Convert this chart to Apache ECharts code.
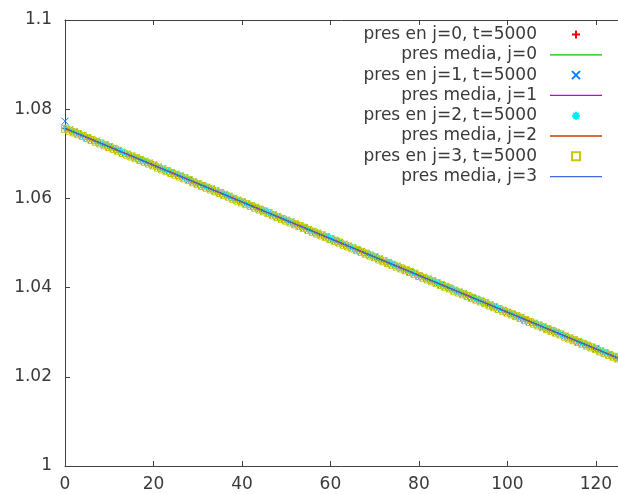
<!DOCTYPE html>
<html>
<head>
<meta charset="utf-8">
<script src="https://cdn.jsdelivr.net/npm/echarts@6/dist/echarts.min.js"></script>
<style>html,body{margin:0;padding:0;background:#fff}#c{width:618px;height:494px}</style>
</head>
<body>
<div id="c"></div>
<script>
// x positions (j index along the domain)
var xValues = [0,1,2,3,4,5,6,7,8,9,10,11,12,13,14,15,16,17,18,19,20,21,22,23,24,25,26,27,28,29,30,31,32,33,34,35,36,37,38,39,40,41,42,43,44,45,46,47,48,49,50,51,52,53,54,55,56,57,58,59,60,61,62,63,64,65,66,67,68,69,70,71,72,73,74,75,76,77,78,79,80,81,82,83,84,85,86,87,88,89,90,91,92,93,94,95,96,97,98,99,100,101,102,103,104,105,106,107,108,109,110,111,112,113,114,115,116,117,118,119,120,121,122,123,124,125];

var presJ0 = [1.0757,1.0753,1.0749,1.0745,1.0740,1.0736,1.0732,1.0728,1.0724,1.0720,1.0716,1.0712,1.0708,1.0703,1.0699,1.0695,1.0691,1.0687,1.0683,1.0679,1.0675,1.0670,1.0666,1.0662,1.0658,1.0654,1.0650,1.0646,1.0642,1.0637,1.0633,1.0629,1.0625,1.0621,1.0617,1.0613,1.0609,1.0605,1.0600,1.0596,1.0592,1.0588,1.0584,1.0580,1.0576,1.0572,1.0568,1.0563,1.0559,1.0555,1.0551,1.0547,1.0543,1.0539,1.0535,1.0530,1.0526,1.0522,1.0518,1.0514,1.0510,1.0506,1.0502,1.0497,1.0493,1.0489,1.0485,1.0481,1.0477,1.0473,1.0469,1.0464,1.0460,1.0456,1.0452,1.0448,1.0444,1.0440,1.0436,1.0432,1.0427,1.0423,1.0419,1.0415,1.0411,1.0407,1.0403,1.0399,1.0394,1.0390,1.0386,1.0382,1.0378,1.0374,1.0370,1.0366,1.0361,1.0357,1.0353,1.0349,1.0345,1.0341,1.0337,1.0333,1.0328,1.0324,1.0320,1.0316,1.0312,1.0308,1.0304,1.0300,1.0296,1.0291,1.0287,1.0283,1.0279,1.0275,1.0271,1.0267,1.0263,1.0258,1.0254,1.0250,1.0246,1.0242];
var presJ1 = [1.0773,1.0754,1.0749,1.0745,1.0741,1.0736,1.0732,1.0728,1.0724,1.0720,1.0716,1.0712,1.0707,1.0703,1.0699,1.0695,1.0691,1.0687,1.0683,1.0679,1.0674,1.0670,1.0666,1.0662,1.0658,1.0654,1.0650,1.0646,1.0641,1.0637,1.0633,1.0629,1.0625,1.0621,1.0617,1.0613,1.0608,1.0604,1.0600,1.0596,1.0592,1.0588,1.0584,1.0580,1.0575,1.0571,1.0567,1.0563,1.0559,1.0555,1.0551,1.0547,1.0542,1.0538,1.0534,1.0530,1.0526,1.0522,1.0518,1.0514,1.0509,1.0505,1.0501,1.0497,1.0493,1.0489,1.0485,1.0481,1.0476,1.0472,1.0468,1.0464,1.0460,1.0456,1.0452,1.0448,1.0443,1.0439,1.0435,1.0431,1.0427,1.0423,1.0419,1.0415,1.0410,1.0406,1.0402,1.0398,1.0394,1.0390,1.0386,1.0382,1.0377,1.0373,1.0369,1.0365,1.0361,1.0357,1.0353,1.0349,1.0344,1.0340,1.0336,1.0332,1.0328,1.0324,1.0320,1.0316,1.0311,1.0307,1.0303,1.0299,1.0295,1.0291,1.0287,1.0283,1.0278,1.0274,1.0270,1.0266,1.0262,1.0258,1.0254,1.0250,1.0245,1.0241];
var presJ2 = [1.0758,1.0754,1.0750,1.0746,1.0741,1.0737,1.0733,1.0729,1.0725,1.0721,1.0717,1.0713,1.0709,1.0704,1.0700,1.0696,1.0692,1.0688,1.0684,1.0680,1.0676,1.0671,1.0667,1.0663,1.0659,1.0655,1.0651,1.0647,1.0643,1.0638,1.0634,1.0630,1.0626,1.0622,1.0618,1.0614,1.0610,1.0606,1.0601,1.0597,1.0593,1.0589,1.0585,1.0581,1.0577,1.0573,1.0569,1.0564,1.0560,1.0556,1.0552,1.0548,1.0544,1.0540,1.0536,1.0531,1.0527,1.0523,1.0519,1.0515,1.0511,1.0507,1.0503,1.0498,1.0494,1.0490,1.0486,1.0482,1.0478,1.0474,1.0470,1.0465,1.0461,1.0457,1.0453,1.0449,1.0445,1.0441,1.0437,1.0433,1.0428,1.0424,1.0420,1.0416,1.0412,1.0408,1.0404,1.0400,1.0395,1.0391,1.0387,1.0383,1.0379,1.0375,1.0371,1.0367,1.0362,1.0358,1.0354,1.0350,1.0346,1.0342,1.0338,1.0334,1.0329,1.0325,1.0321,1.0317,1.0313,1.0309,1.0305,1.0301,1.0297,1.0292,1.0288,1.0284,1.0280,1.0276,1.0272,1.0268,1.0264,1.0259,1.0255,1.0251,1.0247,1.0243];
var presJ3 = [1.0756,1.0752,1.0748,1.0744,1.0740,1.0735,1.0731,1.0727,1.0723,1.0719,1.0715,1.0711,1.0707,1.0702,1.0698,1.0694,1.0690,1.0686,1.0682,1.0678,1.0674,1.0669,1.0665,1.0661,1.0657,1.0653,1.0649,1.0645,1.0641,1.0636,1.0632,1.0628,1.0624,1.0620,1.0616,1.0612,1.0608,1.0604,1.0599,1.0595,1.0591,1.0587,1.0583,1.0579,1.0575,1.0571,1.0567,1.0562,1.0558,1.0554,1.0550,1.0546,1.0542,1.0538,1.0534,1.0529,1.0525,1.0521,1.0517,1.0513,1.0509,1.0505,1.0501,1.0496,1.0492,1.0488,1.0484,1.0480,1.0476,1.0472,1.0468,1.0463,1.0459,1.0455,1.0451,1.0447,1.0443,1.0439,1.0435,1.0431,1.0426,1.0422,1.0418,1.0414,1.0410,1.0406,1.0402,1.0398,1.0393,1.0389,1.0385,1.0381,1.0377,1.0373,1.0369,1.0365,1.0360,1.0356,1.0352,1.0348,1.0344,1.0340,1.0336,1.0332,1.0327,1.0323,1.0319,1.0315,1.0311,1.0307,1.0303,1.0299,1.0295,1.0290,1.0286,1.0282,1.0278,1.0274,1.0270,1.0266,1.0262,1.0257,1.0253,1.0249,1.0245,1.0241];

// mean pressure (pres media) read at a few x positions
var mediaX = [0,25,50,75,100,125];
var mediaJ0 = [1.0757,1.0654,1.0551,1.0448,1.0345,1.0242];
var mediaJ1 = [1.0757,1.0654,1.0551,1.0448,1.0345,1.0242];
var mediaJ2 = [1.0757,1.0654,1.0551,1.0448,1.0345,1.0242];
var mediaJ3 = [1.0757,1.0654,1.0551,1.0448,1.0345,1.0242];

var seriesNames = ['pres en j=0, t=5000','pres media, j=0','pres en j=1, t=5000','pres media, j=1','pres en j=2, t=5000','pres media, j=2','pres en j=3, t=5000','pres media, j=3'];
var seriesColors = ['#ff0000','#00c000','#0080ff','#c000ff','#00eeee','#c04000','#c8c800','#4169e1'];

function pairs(xs, ys){ var o=[]; for(var i=0;i<xs.length;i++) o.push([xs[i], ys[i]]); return o; }

var PLUS = 'path://M0,5L10,5M5,0L5,10';
var CROSS = 'path://M0,0L10,10M10,0L0,10';
var STAR = 'path://M0,5L10,5M5,0L5,10M1.5,1.5L8.5,8.5M8.5,1.5L1.5,8.5';
var SQUARE = 'path://M0,0L10,0L10,10L0,10Z';
var LINEICON = 'path://M0,0L52,0L52,1.3L0,1.3Z';

function pts(name, data, symbol, color, size){
  return {type:'scatter', name:name, data:data, symbol:symbol, symbolSize:size,
    itemStyle:{color:'none', borderColor:color, borderWidth:1, opacity:1},
    emphasis:{disabled:true}, animation:false, silent:true};
}
function ln(name, data, color){
  return {type:'line', name:name, data:data, symbol:'none', showSymbol:false,
    lineStyle:{color:color, width:1}, itemStyle:{color:color},
    emphasis:{disabled:true}, animation:false, silent:true};
}

var legendData = seriesNames.map(function(n, i){
  if (i % 2 === 1) {
    return {name:n, icon:LINEICON, itemStyle:{color:seriesColors[i], borderWidth:0}};
  }
  return {name:n};
});

var chart = echarts.init(document.getElementById('c'), null, {renderer:'canvas'});
var axisCol = '#404040';
var fontFam = 'DejaVu Sans';
var txtCol = '#3a3a3a';
chart.setOption({
  backgroundColor:'#fff',
  animation:false,
  grid:{left:65, right:0, top:20, bottom:28, containLabel:false},
  legend:{
    orient:'vertical', right:11, top:21, align:'right',
    itemWidth:52, itemHeight:8, itemGap:3.3, symbolKeepAspect:true,
    textStyle:{fontFamily:fontFam, fontSize:17, color:txtCol, lineHeight:17, padding:[0,8,0,0]},
    data:legendData, selectedMode:false
  },
  xAxis:[{
    type:'value', min:0, max:125, interval:20, position:'bottom',
    axisLine:{show:true, lineStyle:{color:axisCol, width:1}},
    axisTick:{show:true, inside:true, length:5, lineStyle:{color:axisCol}},
    axisLabel:{fontFamily:fontFam, fontSize:17, color:txtCol, margin:10, showMaxLabel:false},
    splitLine:{show:false}
  },{
    type:'value', min:0, max:125, interval:20, position:'top',
    axisLine:{show:true, onZero:false, lineStyle:{color:axisCol, width:1}},
    axisTick:{show:true, inside:true, length:5, lineStyle:{color:axisCol}},
    axisLabel:{show:false}, splitLine:{show:false}
  }],
  yAxis:{
    type:'value', min:1, max:1.1, interval:0.02,
    axisLine:{show:true, lineStyle:{color:axisCol, width:1}},
    axisTick:{show:true, inside:true, length:5, lineStyle:{color:axisCol}},
    axisLabel:{fontFamily:fontFam, fontSize:17, color:txtCol, margin:13},
    splitLine:{show:false}
  },
  series:[
    pts(seriesNames[0], pairs(xValues, presJ0), PLUS, seriesColors[0], 7),
    ln(seriesNames[1], pairs(mediaX, mediaJ0), seriesColors[1]),
    pts(seriesNames[2], pairs(xValues, presJ1), CROSS, seriesColors[2], 7),
    ln(seriesNames[3], pairs(mediaX, mediaJ1), seriesColors[3]),
    pts(seriesNames[4], pairs(xValues, presJ2), STAR, seriesColors[4], 7),
    ln(seriesNames[5], pairs(mediaX, mediaJ2), seriesColors[5]),
    pts(seriesNames[6], pairs(xValues, presJ3), SQUARE, seriesColors[6], 7),
    ln(seriesNames[7], pairs(mediaX, mediaJ3), seriesColors[7])
  ]
});
</script>
</body>
</html>
